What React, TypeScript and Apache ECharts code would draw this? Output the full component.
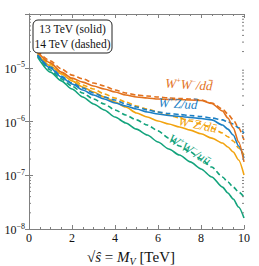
import React, { useEffect, useRef } from "react";
import * as echarts from "echarts";

const xs = [0.4, 1, 1.5, 2, 2.5, 3, 3.5, 4, 4.5, 5, 5.5, 6, 6.5, 7, 7.5, 8, 8.5, 9, 9.25, 9.5, 9.75, 10];

const wwdd13 = [1.96e-5, 1.23e-5, 8.3e-6, 6.4e-6, 5.4e-6, 4.57e-6, 4.02e-6, 3.54e-6, 3.11e-6, 2.86e-6, 2.74e-6, 2.62e-6, 2.57e-6, 2.57e-6, 2.51e-6, 2.46e-6, 2.16e-6, 1.57e-6, 1.16e-6, 7.6e-7, 4.16e-7, 1.77e-7];
const wwdd14 = [2.05e-5, 1.34e-5, 9.5e-6, 7.3e-6, 6.2e-6, 5.2e-6, 4.57e-6, 3.86e-6, 3.39e-6, 3.11e-6, 2.98e-6, 2.86e-6, 2.74e-6, 2.68e-6, 2.62e-6, 2.51e-6, 2.21e-6, 1.71e-6, 1.38e-6, 1.07e-6, 7.6e-7, 4.5e-7];
const wzud13 = [1.73e-5, 9.9e-6, 6.7e-6, 5.0e-6, 3.86e-6, 3.11e-6, 2.62e-6, 2.21e-6, 1.94e-6, 1.71e-6, 1.5e-6, 1.38e-6, 1.29e-6, 1.24e-6, 1.19e-6, 1.14e-6, 1.07e-6, 8.6e-7, 7.2e-7, 5.6e-7, 3.5e-7, 2.09e-7];
const wzud14 = [1.73e-5, 1.03e-5, 7.0e-6, 5.2e-6, 4.2e-6, 3.39e-6, 2.86e-6, 2.51e-6, 2.12e-6, 1.86e-6, 1.64e-6, 1.5e-6, 1.41e-6, 1.35e-6, 1.29e-6, 1.24e-6, 1.16e-6, 1.07e-6, 9.8e-7, 9.0e-7, 7.6e-7, 6.1e-7];
const wzdu13 = [1.8e-5, 1.08e-5, 7.7e-6, 5.7e-6, 4.38e-6, 3.54e-6, 2.86e-6, 2.31e-6, 1.86e-6, 1.44e-6, 1.21e-6, 1.02e-6, 9.0e-7, 7.9e-7, 6.9e-7, 5.9e-7, 4.9e-7, 3.98e-7, 3.36e-7, 2.71e-7, 1.92e-7, 1.01e-7];
const wzdu14 = [1.88e-5, 1.17e-5, 8.3e-6, 6.2e-6, 4.78e-6, 4.02e-6, 3.25e-6, 2.74e-6, 2.31e-6, 1.94e-6, 1.71e-6, 1.5e-6, 1.32e-6, 1.16e-6, 1.02e-6, 9.0e-7, 7.6e-7, 6.1e-7, 5.2e-7, 4.34e-7, 3.21e-7, 2.38e-7];
const wwuu13 = [1.58e-5, 8.3e-6, 5.7e-6, 4.02e-6, 2.86e-6, 2.12e-6, 1.64e-6, 1.21e-6, 9.4e-7, 7.2e-7, 5.6e-7, 4.16e-7, 3.08e-7, 2.38e-7, 1.77e-7, 1.31e-7, 9.3e-8, 6.0e-8, 4.68e-8, 3.61e-8, 2.56e-8, 1.6e-8];
const wwuu14 = [1.66e-5, 9.1e-6, 6.2e-6, 4.57e-6, 3.39e-6, 2.62e-6, 2.12e-6, 1.64e-6, 1.32e-6, 1.07e-6, 8.6e-7, 6.7e-7, 4.9e-7, 3.5e-7, 2.71e-7, 2.0e-7, 1.42e-7, 9.3e-8, 7.5e-8, 6.04e-8, 4.88e-8, 3.94e-8];

const xTicks = [0, 2, 4, 6, 8, 10];
const decades = [-8, -7, -6, -5];
const minorMult = [2, 3, 4, 5, 6, 7, 8, 9];

const C_OR = "#e2711d";
const C_BL = "#1b7fc4";
const C_YE = "#f2a30f";
const C_GR = "#13a37c";
const FRAME = "#808080";
const SERIF = "'Liberation Serif', 'DejaVu Serif', serif";

export default function App() {
  const ref = useRef<HTMLDivElement>(null);
  useEffect(() => {
    if (!ref.current) return;
    const chart = echarts.init(ref.current, undefined, { renderer: "svg" });
    const mk = (name: string, arr: number[], color: string, dashed: boolean) => ({
      name,
      type: "line",
      data: xs.map((x, i) => [x, arr[i]]),
      smooth: 0.25,
      smoothMonotone: "x",
      showSymbol: false,
      symbol: "none",
      lineStyle: { color, width: 1.6, type: dashed ? [5, 3] : "solid" },
      z: 3,
    });
    const minorData: number[][] = [];
    decades.forEach((d) => minorMult.forEach((m) => minorData.push([0, m * Math.pow(10, d)])));
    const lbl = (text: string, x: number, y: number, rot: number, color: string) => ({
      type: "text",
      x,
      y,
      rotation: rot,
      style: {
        text,
        fill: color,
        align: "center",
        verticalAlign: "middle",
        font: `italic 13px ${SERIF}`,
        rich: {
          m: { fontFamily: SERIF, fontStyle: "italic", fill: color, fontSize: 13, lineHeight: 14, verticalAlign: "bottom" },
          s: { fontFamily: SERIF, fontStyle: "normal", fill: color, fontSize: 8, lineHeight: 14, verticalAlign: "top", padding: [0, 0, 6, 0] },
        },
      },
      z: 10,
    });
    const axisCommon = {
      axisLine: { show: true, lineStyle: { color: FRAME, width: 1 } },
      splitLine: { show: false },
    };
    chart.setOption({
      animation: false,
      backgroundColor: "#fff",
      grid: { left: 29, top: 14, right: 15, bottom: 37, containLabel: false },
      xAxis: [
        {
          type: "value",
          min: 0,
          max: 10,
          interval: 2,
          position: "bottom",
          ...axisCommon,
          axisTick: { show: true, inside: true, length: 4, lineStyle: { color: FRAME } },
          minorTick: { show: true, splitNumber: 4, length: 2, lineStyle: { color: FRAME } },
          axisLabel: {
            show: true,
            margin: 3,
            color: "#111",
            fontSize: 12,
            fontFamily: SERIF,
            formatter: (v: number) => (xTicks.includes(v) ? String(v) : ""),
          },
        },
        {
          type: "value",
          min: 0,
          max: 10,
          interval: 2,
          position: "top",
          ...axisCommon,
          axisTick: { show: true, inside: true, length: 4, lineStyle: { color: FRAME } },
          minorTick: { show: true, splitNumber: 4, length: 2, lineStyle: { color: FRAME } },
          axisLabel: { show: false },
        },
      ],
      yAxis: [
        {
          type: "log",
          logBase: 10,
          min: 1e-8,
          max: 1e-4,
          position: "left",
          ...axisCommon,
          axisTick: { show: true, inside: true, length: 4, lineStyle: { color: FRAME } },
          axisLabel: {
            show: true,
            margin: 4,
            color: "#111",
            formatter: (v: number) => {
              const e = Math.round(Math.log10(v));
              if (e >= -4) return "";
              return `{b|10}{s|−${-e}}`;
            },
            rich: {
              b: { fontSize: 12, fontFamily: SERIF, color: "#111", lineHeight: 14, verticalAlign: "bottom" },
              s: { fontSize: 8, fontFamily: SERIF, color: "#111", lineHeight: 14, verticalAlign: "top", padding: [0, 0, 6, 0] },
            },
          },
        },
        {
          type: "log",
          logBase: 10,
          min: 1e-8,
          max: 1e-4,
          position: "right",
          ...axisCommon,
          axisTick: { show: true, inside: true, length: 4, lineStyle: { color: FRAME } },
          axisLabel: { show: false },
        },
      ],
      series: [
        mk("WWuu13", wwuu13, C_GR, false),
        mk("WWuu14", wwuu14, C_GR, true),
        mk("WZdu13", wzdu13, C_YE, false),
        mk("WZdu14", wzdu14, C_YE, true),
        mk("WZud13", wzud13, C_BL, false),
        mk("WZud14", wzud14, C_BL, true),
        mk("WWdd13", wwdd13, C_OR, false),
        mk("WWdd14", wwdd14, C_OR, true),
        {
          type: "custom",
          silent: true,
          clip: false,
          data: minorData,
          renderItem: (params: any, api: any) => {
            const l = api.coord([0, api.value(1)]);
            const r = api.coord([10, api.value(1)]);
            return {
              type: "group",
              children: [
                { type: "line", shape: { x1: l[0], y1: l[1], x2: l[0] + 2, y2: l[1] }, style: { stroke: FRAME, lineWidth: 1 } },
                { type: "line", shape: { x1: r[0], y1: r[1], x2: r[0] - 2, y2: r[1] }, style: { stroke: FRAME, lineWidth: 1 } },
              ],
            };
          },
          z: 5,
        },
      ],
      graphic: [
        {
          type: "rect",
          shape: { x: 33, y: 20, width: 79, height: 33, r: 5 },
          style: { fill: "#fff", stroke: "#222", lineWidth: 1 },
          z: 20,
        },
        {
          type: "text",
          x: 72.5,
          y: 29,
          style: { text: "13 TeV (solid)", align: "center", verticalAlign: "middle", font: `11.5px ${SERIF}`, fill: "#111" },
          z: 21,
        },
        {
          type: "text",
          x: 72.5,
          y: 44,
          style: { text: "14 TeV (dashed)", align: "center", verticalAlign: "middle", font: `11.5px ${SERIF}`, fill: "#111" },
          z: 21,
        },
        lbl("{m|W}{s|+}{m|W}{s|−}{m|/dd̄}", 189, 84, -0.06, C_OR),
        lbl("{m|W}{s|+}{m|Z/ud̄}", 178, 103, -0.06, C_BL),
        lbl("{m|W}{s|−}{m|Z/dū}", 198, 124, -0.2, C_YE),
        lbl("{m|W}{s|+}{m|W}{s|−}{m|/uū}", 190, 149, -0.55, C_GR),
        {
          type: "text",
          x: 131,
          y: 255,
          style: {
            text: "{a|√}{i|ŝ}{a| = }{i|M}{sub|V}{a| [TeV]}",
            align: "center",
            verticalAlign: "middle",
            rich: {
              a: { fontSize: 15, fontFamily: SERIF, fill: "#111", lineHeight: 18, verticalAlign: "bottom" },
              i: { fontSize: 15, fontFamily: SERIF, fontStyle: "italic", fill: "#111", lineHeight: 18, verticalAlign: "bottom" },
              sub: { fontSize: 10, fontFamily: SERIF, fontStyle: "italic", fill: "#111", lineHeight: 18, verticalAlign: "bottom", padding: [0, 0, -2, 0] },
            },
          },
        },
      ],
    });
    return () => chart.dispose();
  }, []);
  return <div ref={ref} style={{ position: "fixed", left: 0, top: 0, width: 259, height: 266 }} />;
}
